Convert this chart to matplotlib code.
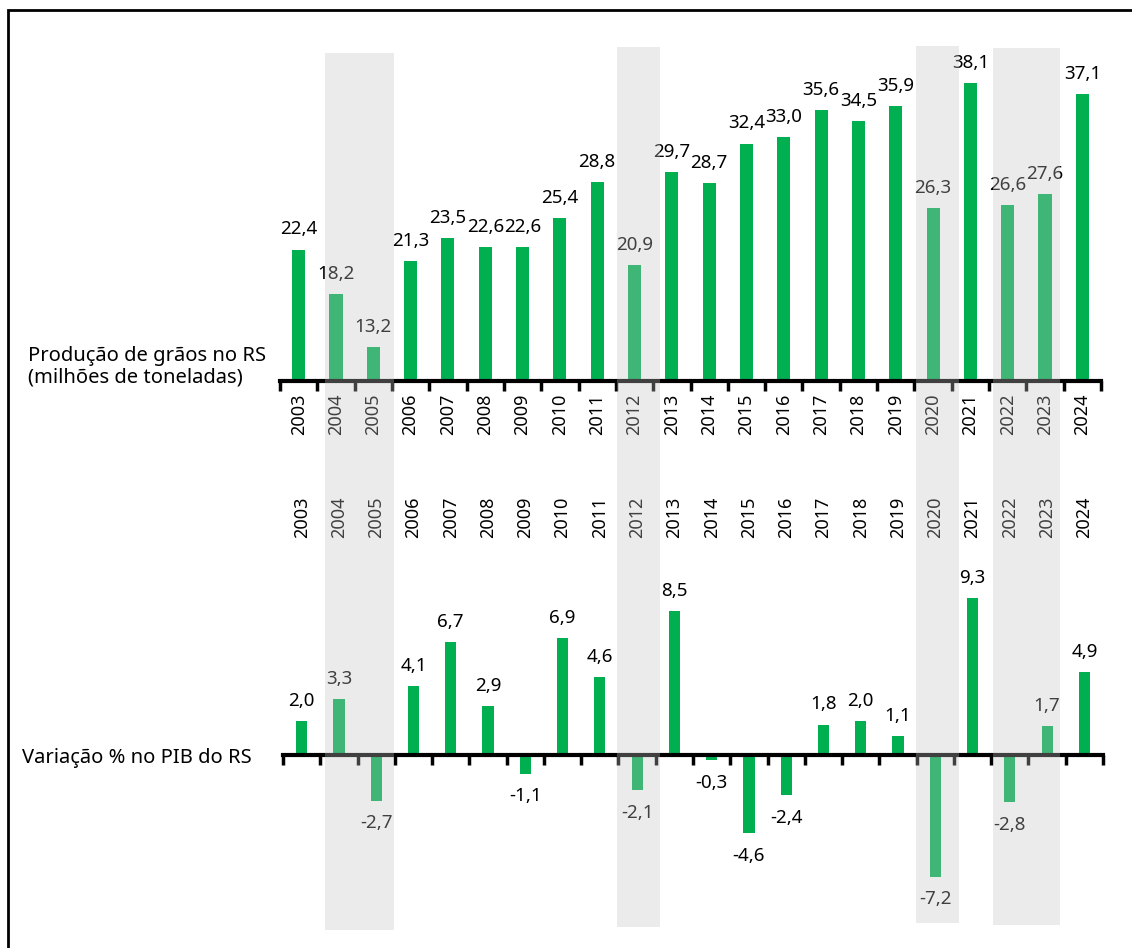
import matplotlib.pyplot as plt
import matplotlib.transforms as mtransforms
from matplotlib.patches import Rectangle

plt.rcParams['font.family'] = ['Noto Sans', 'DejaVu Sans']

# Data
years = [str(y) for y in range(2003, 2025)]
graos = [22.4, 18.2, 13.2, 21.3, 23.5, 22.6, 22.6, 25.4, 28.8, 20.9, 29.7,
         28.7, 32.4, 33.0, 35.6, 34.5, 35.9, 26.3, 38.1, 26.6, 27.6, 37.1]
pib = [2.0, 3.3, -2.7, 4.1, 6.7, 2.9, -1.1, 6.9, 4.6, -2.1, 8.5,
       -0.3, -4.6, -2.4, 1.8, 2.0, 1.1, -7.2, 9.3, -2.8, 1.7, 4.9]
# drought years (first, last) that get the grey band
estiagens = [('2004', '2005'), ('2012', '2012'), ('2020', '2020'),
             ('2022', '2023')]

GREEN = '#00B050'
W, H = 1132, 948


def fig_box(left, top, right, bottom):
    # pixel box -> figure fraction [l, b, w, h]
    return [left / W, 1 - bottom / H, (right - left) / W, (bottom - top) / H]


def fmt(v):
    return f'{v:.1f}'.replace('.', ',')


fig = plt.figure(figsize=(W / 100, H / 100), dpi=100)

# border
fig.add_artist(Rectangle((8 / W, -0.1), 1.2, 1 - 10 / H + 0.1,
                         transform=fig.transFigure, fill=False,
                         edgecolor='black', linewidth=2, zorder=0))

x = list(range(len(years)))

# top panel - grain production
ax1 = fig.add_axes(fig_box(280, 63, 1101, 381))
ax1.bar(x, graos, width=0.35, color=GREEN, zorder=2)
ax1.set_xlim(-0.5, len(years) - 0.5)
ax1.set_ylim(10, 40)
for i, v in enumerate(graos):
    ax1.annotate(fmt(v), (i, v), xytext=(0, 8), textcoords='offset points',
                 ha='center', va='bottom', fontsize=13.5)

# bottom panel - GDP variation
ax2 = fig.add_axes(fig_box(283, 586, 1103, 907))
ax2.bar(x, pib, width=0.3, color=GREEN, zorder=2)
ax2.set_xlim(-0.5, len(years) - 0.5)
ax2.set_ylim(-9, 10)
for i, v in enumerate(pib):
    if v >= 0:
        ax2.annotate(fmt(v), (i, v), xytext=(0, 8),
                     textcoords='offset points', ha='center', va='bottom',
                     fontsize=13.5)
    else:
        ax2.annotate(fmt(v), (i, v), xytext=(0, -10),
                     textcoords='offset points', ha='center', va='top',
                     fontsize=13.5)

for ax in (ax1, ax2):
    for s in ('top', 'right', 'left'):
        ax.spines[s].set_visible(False)
    ax.set_yticks([])
    ax.set_xticks([i - 0.5 for i in range(len(years) + 1)], minor=False)
    ax.set_xticklabels([])
    ax.tick_params(axis='x', length=7, width=2.5, color='black')
    ax.set_facecolor('none')

ax1.spines['bottom'].set_linewidth(3)
ax2.spines['bottom'].set_position(('data', 0))
ax2.spines['bottom'].set_linewidth(3)

# year labels
for i, y in enumerate(years):
    ax1.text(i, -0.04, y, rotation=90, ha='center', va='top', fontsize=13,
             transform=ax1.get_xaxis_transform())
    ax2.text(i, 1.15, y, rotation=90, ha='center', va='bottom', fontsize=13,
             transform=ax2.get_xaxis_transform())

# left labels
fig.text(28 / W, 1 - 367 / H, 'Produção de grãos no RS\n(milhões de toneladas)',
         ha='left', va='center', fontsize=14.5, linespacing=1.1)
fig.text(22 / W, 1 - 758 / H, 'Variação % no PIB do RS', ha='left',
         va='center', fontsize=14.5)

# grey bands on top of everything
band_tops = [53, 47, 46, 48]
band_bottoms = [930, 927, 923, 925]
band_left = [-0.3, -0.46, -0.45, -0.4]
band_right = [0.55, 0.67, 0.7, 0.4]
trans = mtransforms.blended_transform_factory(ax1.transData, fig.transFigure)
for k, (a, b) in enumerate(estiagens):
    i0 = years.index(a) + band_left[k]
    i1 = years.index(b) + band_right[k]
    t, bt = band_tops[k], band_bottoms[k]
    fig.add_artist(Rectangle((i0, 1 - bt / H), i1 - i0, (bt - t) / H,
                             transform=trans, facecolor='#C5C5C5',
                             edgecolor='none', alpha=0.33, zorder=10))

fig.savefig('out.png', dpi=100)
